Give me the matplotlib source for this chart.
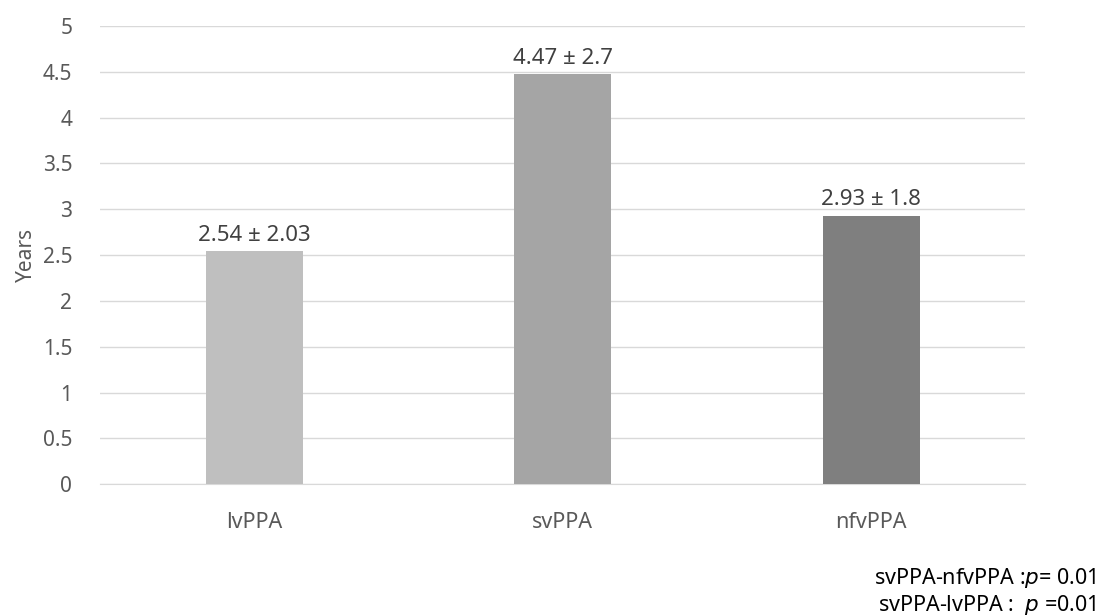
import matplotlib.pyplot as plt

# -------------------------
# DATA
# -------------------------

groups = ["lvPPA", "svPPA", "nfvPPA"]
means = [2.54, 4.47, 2.93]
sds = ["2.03", "2.7", "1.8"]
bar_colors = ["#bfbfbf", "#a5a5a5", "#7f7f7f"]
y_ticks = [0, 0.5, 1, 1.5, 2, 2.5, 3, 3.5, 4, 4.5, 5]
y_tick_labels = ["0", "0.5", "1", "1.5", "2", "2.5", "3", "3.5", "4", "4.5", "5"]
p_notes = ["svPPA-nfvPPA :$p$= 0.01", "svPPA-lvPPA :  $p$ =0.01"]

text_color = "#595959"
plt.rcParams["font.family"] = ["Noto Sans", "DejaVu Sans"]

# -------------------------
# BAR CHART
# -------------------------

fig = plt.figure(figsize=(10.99, 6.16), dpi=100)
ax = fig.add_axes([0.091, 0.214, 0.842, 0.744])

x = list(range(len(groups)))
ax.bar(x, means, width=0.315, color=bar_colors, zorder=3)

for xi, m, s in zip(x, means, sds):
    ax.text(xi, m + 0.06, f"{m:.2f} ± {s}", ha="center", va="bottom",
            fontsize=16, color="#404040")

ax.set_xlim(-0.5, 2.5)
ax.set_ylim(0, 5)
ax.set_yticks(y_ticks)
ax.set_yticklabels(y_tick_labels)
ax.set_xticks(x)
ax.set_xticklabels(groups)

ax.yaxis.grid(True, color="#d9d9d9", linewidth=1, zorder=0)
for sp in ["top", "right", "left"]:
    ax.spines[sp].set_visible(False)
ax.spines["bottom"].set_color("#d9d9d9")

ax.tick_params(axis="y", length=0, pad=20, labelsize=15, labelcolor=text_color)
ax.tick_params(axis="x", length=0, pad=20, labelsize=15.5, labelcolor=text_color)

ax.set_ylabel("Years", fontsize=15, color=text_color, labelpad=0)
ax.yaxis.set_label_coords(-0.068, 0.5)

fig.text(0.998, 0.062, p_notes[0], ha="right", va="center", fontsize=15.5, color="black")
fig.text(0.998, 0.018, p_notes[1], ha="right", va="center", fontsize=15.5, color="black")

plt.savefig("out.png", dpi=100)
